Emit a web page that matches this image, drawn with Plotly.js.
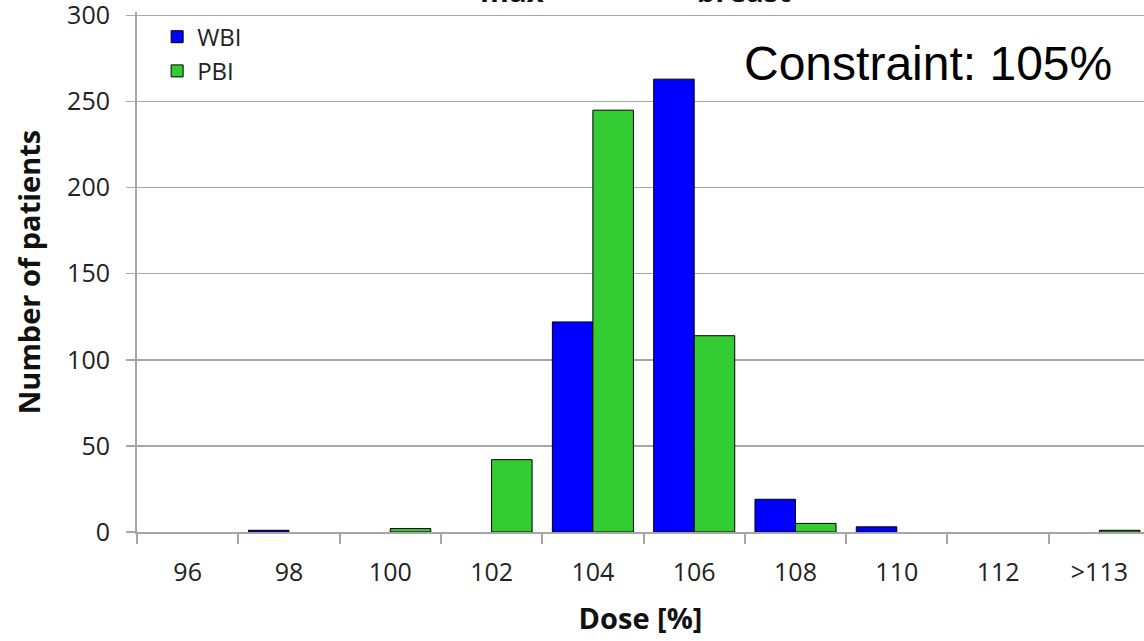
<!DOCTYPE html>
<html>
<head>
<meta charset="utf-8">
<script src="https://cdn.plot.ly/plotly-3.0.1.min.js"></script>
<style>html,body{margin:0;padding:0;background:#fff;}#chart{width:1144px;height:641px;}</style>
</head>
<body>
<div id="chart"></div>
<script>
const categories = ["96", "98", "100", "102", "104", "106", "108", "110", "112", ">113"];
// null = no bar drawn in the reference
const wbiValues = [null, 1, null, null, 122, 263, 19, 3, null, null];
const pbiValues = [null, null, 2, 42, 245, 114, 5, null, null, 1];
const seriesNames = ["WBI", "PBI"];
const yTicks = [0, 50, 100, 150, 200, 250, 300];

const FONT = "Open Sans, DejaVu Sans, sans-serif";
const traces = [
  {type: "bar", name: seriesNames[0], x: categories, y: wbiValues,
   marker: {color: "#0000FF", line: {color: "#000000", width: 1}}},
  {type: "bar", name: seriesNames[1], x: categories, y: pbiValues,
   marker: {color: "#33CC33", line: {color: "#000000", width: 1}}}
];

const layout = {
  width: 1144, height: 641,
  margin: {l: 137, r: 0, t: 12, b: 109, pad: 0},
  paper_bgcolor: "#ffffff", plot_bgcolor: "#ffffff",
  barmode: "group", bargap: 0.2, bargroupgap: 0,
  showlegend: true,
  legend: {x: 0.02, y: 0.995, xanchor: "left", yanchor: "top",
           font: {family: FONT, size: 24, color: "#222"}, bgcolor: "rgba(0,0,0,0)",
           tracegroupgap: 0},
  xaxis: {
    type: "category", range: [-0.5, 9.44],
    showgrid: false, showline: true, linecolor: "#a6a6a6", linewidth: 2,
    ticks: "outside", tickson: "boundaries", ticklen: 10, tickcolor: "#a6a6a6", tickwidth: 2,
    tickfont: {family: FONT, size: 25, color: "#222"}, ticklabelstandoff: 17,
    title: {text: "Dose [%]", font: {family: FONT, size: 29, color: "#111", weight: "bold"}, standoff: 22},
    zeroline: false, fixedrange: true
  },
  yaxis: {
    range: [0, 302], tickvals: yTicks, ticktext: yTicks.map(String),
    showgrid: true, gridcolor: "#a6a6a6", gridwidth: 1.5,
    showline: true, linecolor: "#a6a6a6", linewidth: 2,
    ticks: "outside", ticklen: 9, tickcolor: "#a6a6a6", tickwidth: 1.5,
    tickfont: {family: FONT, size: 25, color: "#222"}, ticklabelstandoff: 11,
    ticklabeloverflow: "allow",
    title: {text: "Number of patients", font: {family: FONT, size: 29, color: "#111", weight: "bold"}, standoff: 18},
    zeroline: false, fixedrange: true
  },
  annotations: [
    {xref: "paper", yref: "paper", x: 0.97, y: 0.9, xanchor: "right", yanchor: "middle",
     text: "Constraint: 105%", showarrow: false,
     font: {family: "Liberation Sans, Arial, sans-serif", size: 48, color: "#000"}},
    {xref: "paper", yref: "paper", x: 0.308, y: 1.0 - 1.5/520, xanchor: "left", yanchor: "bottom",
     text: "D<sub>max</sub> of  PTV<sub>breast</sub>", showarrow: false,
     font: {family: FONT, size: 42, color: "#111", weight: "bold"}}
  ]
};

Plotly.newPlot("chart", traces, layout, {displayModeBar: false, staticPlot: true});
</script>
</body>
</html>
